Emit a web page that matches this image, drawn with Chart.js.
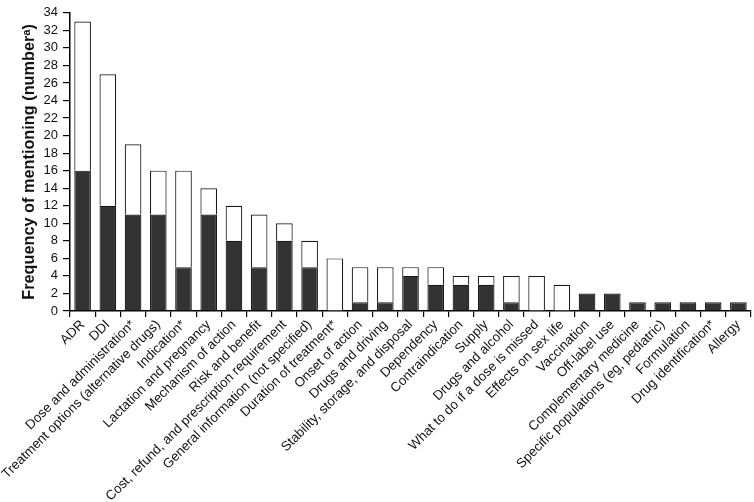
<!DOCTYPE html>
<html>
<head>
<meta charset="utf-8">
<script src="https://cdn.jsdelivr.net/npm/chart.js@4"></script>
<style>
  html, body { margin: 0; padding: 0; background: #fff; }
  #wrap { width: 754px; height: 502px; }
</style>
</head>
<body>
<div id="wrap"><canvas id="grafico" width="754" height="502"></canvas></div>
<script>
// categorias del eje x
var categorias = [
  'ADR', 'DDI', 'Dose and administration*', 'Treatment options (alternative drugs)',
  'Indication*', 'Lactation and pregnancy', 'Mechanism of action', 'Risk and benefit',
  'Cost, refund, and prescription requirement', 'General information (not specified)',
  'Duration of treatment*', 'Onset of action', 'Drugs and driving',
  'Stability, storage, and disposal', 'Dependency', 'Contraindication', 'Supply',
  'Drugs and alcohol', 'What to do if a dose is missed', 'Effects on sex life',
  'Vaccination', 'Off-label use', 'Complementary medicine',
  'Specific populations (eg, pediatric)', 'Formulation', 'Drug identification*', 'Allergy'
];

// parte oscura (abajo) y parte blanca (arriba)
var valoresOscuros = [16, 12, 11, 11, 5, 11, 8, 5, 8, 5, 0, 1, 1, 4, 3, 3, 3, 1, 0, 0, 2, 2, 1, 1, 1, 1, 1];
var valoresBlancos = [17, 15, 8, 5, 11, 3, 4, 6, 2, 3, 6, 4, 4, 1, 2, 1, 1, 3, 4, 3, 0, 0, 0, 0, 0, 0, 0];

var ticksY = [0, 2, 4, 6, 8, 10, 12, 14, 16, 18, 20, 22, 24, 26, 28, 30, 32, 34];

var fuente = 'Arial, "Liberation Sans", Helvetica, sans-serif';

var lienzo = document.getElementById('grafico').getContext('2d');

var grafico = new Chart(lienzo, {
  type: 'bar',
  data: {
    labels: categorias,
    datasets: [{
      data: valoresOscuros,
      backgroundColor: '#333333',
      borderColor: '#1a1a1a',
      borderWidth: 1.2,
      barPercentage: 0.66,
      categoryPercentage: 1
    }, {
      data: valoresBlancos,
      backgroundColor: '#ffffff',
      borderColor: '#1a1a1a',
      borderWidth: 1.2,
      barPercentage: 0.66,
      categoryPercentage: 1
    }]
  },
  options: {
    responsive: false,
    animation: false,
    layout: { padding: { top: 4, right: 3, left: 20, bottom: 0 } },
    plugins: {
      legend: { display: false },
      tooltip: { enabled: false }
    },
    scales: {
      x: {
        stacked: true,
        grid: { display: true, drawOnChartArea: false, drawTicks: true, tickLength: 6, color: '#000', lineWidth: 1.2 },
        border: { display: true, color: '#000', width: 1.5 },
        ticks: {
          color: '#111',
          font: { family: fuente, size: 13.3 },
          minRotation: 45,
          maxRotation: 45,
          autoSkip: false,
          padding: 0
        },
        afterFit: function (escala) { escala.height = 191; }
      },
      y: {
        stacked: true,
        min: 0,
        max: 34,
        afterBuildTicks: function (escala) {
          escala.ticks = ticksY.map(function (v) { return { value: v }; });
        },
        grid: { display: true, drawOnChartArea: false, drawTicks: true, tickLength: 7, color: '#000', lineWidth: 1.2 },
        border: { display: true, color: '#000', width: 1.5 },
        ticks: {
          color: '#111',
          font: { family: fuente, size: 13 },
          autoSkip: false,
          padding: 5
        },
        title: {
          display: true,
          text: 'Frequency of mentioning (numberᵃ)',
          color: '#111',
          font: { family: fuente, size: 16.3, weight: 'bold' },
          padding: { top: 0, bottom: 2 }
        },
        afterFit: function (escala) { escala.width = 50; }
      }
    }
  }
});
</script>
</body>
</html>
